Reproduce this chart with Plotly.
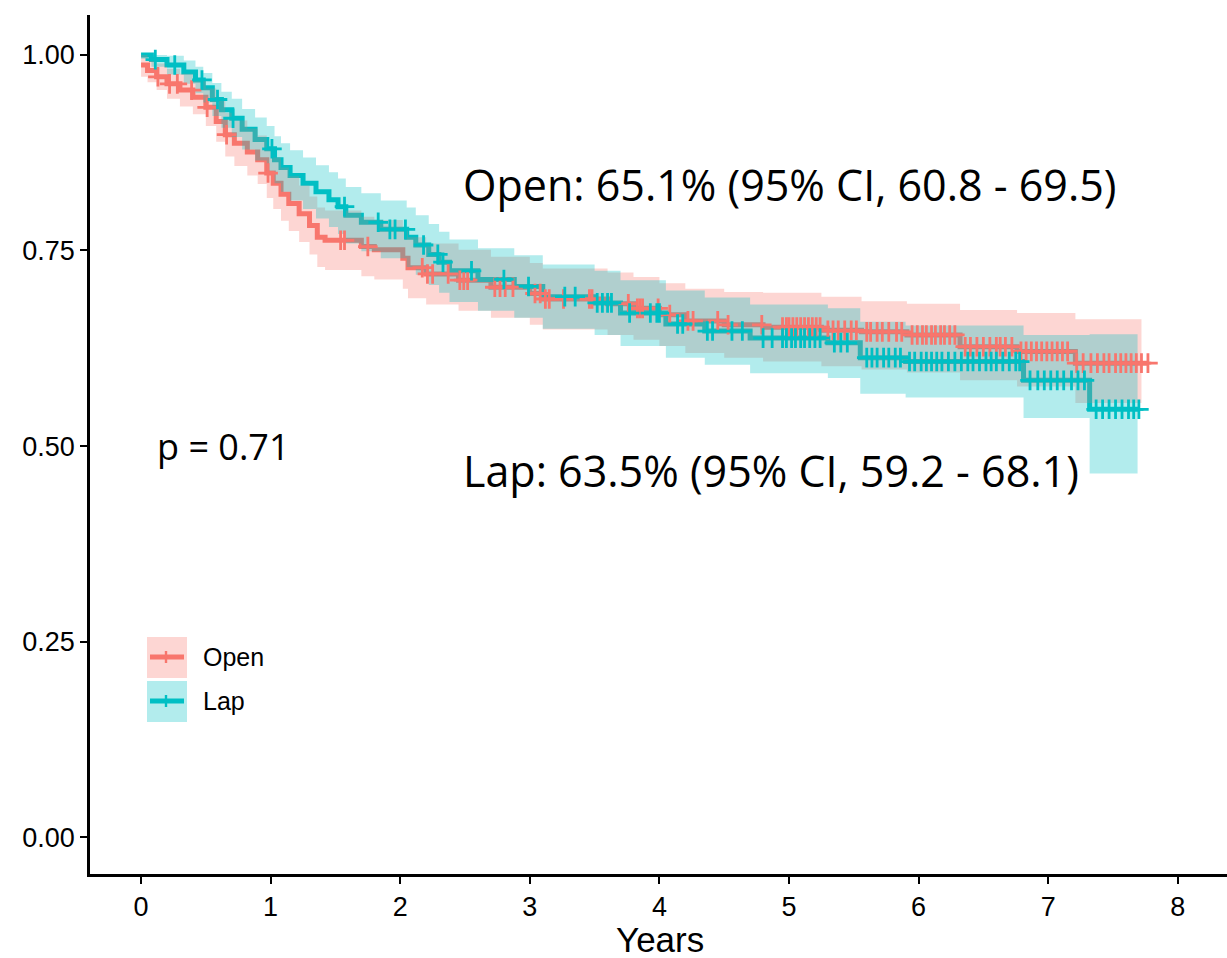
import numpy as np
import plotly.graph_objects as go

# ---------------- data ----------------
open_t = [0.0, 0.05, 0.12, 0.2, 0.3, 0.4, 0.5, 0.58, 0.65, 0.72, 0.82, 0.9, 0.97, 1.02, 1.08, 1.14, 1.22, 1.3, 1.36, 1.42, 1.7, 1.8, 2.02, 2.06, 2.2, 2.45, 2.7, 3.0, 3.1, 3.6, 3.8, 4.0, 4.2, 4.5, 4.8, 5.25, 5.56, 5.91, 6.32, 6.76, 7.21]
open_s = [0.987, 0.980, 0.972, 0.963, 0.955, 0.946, 0.933, 0.915, 0.898, 0.887, 0.876, 0.866, 0.849, 0.836, 0.822, 0.810, 0.797, 0.782, 0.767, 0.763, 0.755, 0.751, 0.740, 0.728, 0.720, 0.712, 0.703, 0.695, 0.688, 0.682, 0.676, 0.668, 0.660, 0.655, 0.652, 0.648, 0.646, 0.642, 0.627, 0.621, 0.606]
open_lo = [0.972, 0.965, 0.955, 0.944, 0.934, 0.924, 0.909, 0.889, 0.870, 0.858, 0.846, 0.835, 0.817, 0.803, 0.788, 0.775, 0.761, 0.745, 0.729, 0.725, 0.717, 0.713, 0.701, 0.689, 0.681, 0.673, 0.664, 0.655, 0.649, 0.642, 0.636, 0.628, 0.619, 0.613, 0.608, 0.602, 0.598, 0.594, 0.584, 0.576, 0.555]
open_hi = [1.000, 0.995, 0.989, 0.982, 0.976, 0.968, 0.957, 0.941, 0.926, 0.916, 0.906, 0.897, 0.881, 0.869, 0.856, 0.845, 0.833, 0.819, 0.805, 0.801, 0.793, 0.789, 0.779, 0.767, 0.759, 0.751, 0.742, 0.734, 0.727, 0.722, 0.716, 0.708, 0.701, 0.697, 0.696, 0.691, 0.685, 0.682, 0.674, 0.670, 0.662]
open_end = 7.77
open_band_end = 7.72
open_cens = [0.13, 0.22, 0.28, 0.39, 0.51, 0.66, 0.98, 1.54, 1.57, 1.75, 2.17, 2.21, 2.25, 2.37, 2.46, 2.49, 2.52, 2.73, 2.77, 2.81, 2.87, 3.04, 3.08, 3.12, 3.15, 3.26, 3.46, 3.48, 3.76, 3.83, 3.85, 3.87, 3.99, 4.08, 4.22, 4.26, 4.45, 4.53, 4.79, 4.95, 4.98, 5.0, 5.03, 5.06, 5.09, 5.12, 5.15, 5.18, 5.21, 5.24, 5.3, 5.34, 5.38, 5.43, 5.48, 5.52, 5.6, 5.63, 5.68, 5.72, 5.77, 5.83, 5.87, 5.95, 5.99, 6.03, 6.06, 6.1, 6.13, 6.17, 6.2, 6.24, 6.28, 6.36, 6.4, 6.45, 6.5, 6.55, 6.6, 6.63, 6.67, 6.72, 6.79, 6.83, 6.87, 6.91, 6.95, 6.99, 7.03, 7.07, 7.11, 7.15, 7.22, 7.27, 7.33, 7.38, 7.43, 7.47, 7.52, 7.56, 7.6, 7.64, 7.68, 7.72, 7.77]

lap_t = [0.0, 0.08, 0.2, 0.33, 0.42, 0.48, 0.55, 0.62, 0.7, 0.78, 0.88, 0.97, 1.03, 1.08, 1.15, 1.25, 1.35, 1.45, 1.52, 1.58, 1.7, 1.85, 2.05, 2.12, 2.22, 2.3, 2.38, 2.6, 2.88, 3.1, 3.5, 3.7, 4.05, 4.35, 4.7, 5.3, 5.55, 5.9, 6.81, 7.32]
lap_s = [1.000, 0.994, 0.987, 0.978, 0.968, 0.958, 0.943, 0.930, 0.919, 0.905, 0.892, 0.880, 0.866, 0.856, 0.846, 0.836, 0.825, 0.815, 0.806, 0.795, 0.786, 0.777, 0.767, 0.757, 0.745, 0.735, 0.724, 0.713, 0.704, 0.691, 0.683, 0.670, 0.656, 0.647, 0.638, 0.632, 0.613, 0.608, 0.584, 0.547]
lap_lo = [0.995, 0.985, 0.975, 0.963, 0.951, 0.939, 0.922, 0.907, 0.895, 0.879, 0.865, 0.852, 0.836, 0.825, 0.814, 0.803, 0.791, 0.780, 0.771, 0.759, 0.749, 0.740, 0.729, 0.719, 0.706, 0.696, 0.684, 0.673, 0.664, 0.650, 0.642, 0.628, 0.613, 0.604, 0.593, 0.587, 0.567, 0.562, 0.536, 0.465]
lap_hi = [1.000, 1.000, 0.999, 0.993, 0.985, 0.977, 0.964, 0.953, 0.944, 0.931, 0.920, 0.909, 0.896, 0.887, 0.878, 0.869, 0.859, 0.850, 0.842, 0.831, 0.823, 0.814, 0.805, 0.795, 0.784, 0.774, 0.764, 0.753, 0.744, 0.732, 0.724, 0.712, 0.699, 0.690, 0.681, 0.676, 0.659, 0.654, 0.642, 0.643]
lap_end = 7.70
lap_band_end = 7.69
lap_cens = [0.11, 0.26, 0.47, 0.59, 0.71, 1.01, 1.57, 1.83, 1.92, 1.96, 2.04, 2.18, 2.29, 2.33, 2.55, 2.8, 2.99, 3.27, 3.35, 3.52, 3.56, 3.6, 3.63, 3.77, 3.93, 3.98, 4.0, 4.14, 4.18, 4.37, 4.41, 4.56, 4.64, 4.8, 4.87, 4.95, 4.98, 5.02, 5.05, 5.09, 5.12, 5.16, 5.2, 5.24, 5.35, 5.4, 5.45, 5.6, 5.64, 5.68, 5.73, 5.77, 5.82, 5.86, 5.93, 5.97, 6.02, 6.06, 6.1, 6.14, 6.18, 6.23, 6.28, 6.33, 6.38, 6.42, 6.47, 6.52, 6.56, 6.6, 6.65, 6.7, 6.75, 6.78, 6.86, 6.92, 6.97, 7.02, 7.07, 7.12, 7.18, 7.23, 7.28, 7.37, 7.42, 7.47, 7.52, 7.57, 7.62, 7.66, 7.7]

groups = ["Open", "Lap"]
x_ticks = [0, 1, 2, 3, 4, 5, 6, 7, 8]
y_ticks = [0, 0.25, 0.5, 0.75, 1.0]
y_ticktext = ["0.00", "0.25", "0.50", "0.75", "1.00"]
x_title = "Years"
open_label = "Open: 65.1% (95% CI, 60.8 - 69.5)"
lap_label = "Lap: 63.5% (95% CI, 59.2 - 68.1)"
p_label = "p = 0.71"

# ---------------- styling ----------------
RED = "#F8766D"
TEAL = "#00BFC4"
RED_FILL = "rgba(248,118,109,0.3)"
TEAL_FILL = "rgba(0,191,196,0.3)"

series = [
    dict(name="Open", t=open_t, s=open_s, lo=open_lo, hi=open_hi, end=open_end,
         bend=open_band_end, cens=open_cens, col=RED, fill=RED_FILL),
    dict(name="Lap", t=lap_t, s=lap_s, lo=lap_lo, hi=lap_hi, end=lap_end,
         bend=lap_band_end, cens=lap_cens, col=TEAL, fill=TEAL_FILL),
]

fig = go.Figure()

# step curves (drawn first; ribbons lie over them as in the reference)
for d in series:
    fig.add_trace(go.Scatter(
        x=list(d["t"]) + [d["end"]], y=list(d["s"]) + [d["s"][-1]],
        mode="lines", line=dict(color=d["col"], width=5, shape="hv"),
        showlegend=False, hoverinfo="skip"))

# confidence ribbons
for d in series:
    fig.add_trace(go.Scatter(
        x=list(d["t"]) + [d["bend"]], y=list(d["lo"]) + [d["lo"][-1]],
        mode="lines", line=dict(width=0, shape="hv"),
        showlegend=False, hoverinfo="skip"))
    fig.add_trace(go.Scatter(
        x=list(d["t"]) + [d["bend"]], y=list(d["hi"]) + [d["hi"][-1]],
        mode="lines", line=dict(width=0, shape="hv"), fill="tonexty",
        fillcolor=d["fill"], showlegend=False, hoverinfo="skip"))

# censor marks
for d in series:
    tt = np.array(d["t"])
    ss = np.array(d["s"])
    ct = np.array(d["cens"])
    idx = np.searchsorted(tt, ct, side="right") - 1
    fig.add_trace(go.Scatter(
        x=ct, y=ss[idx], mode="markers",
        marker=dict(symbol="cross-thin", size=14,
                    line=dict(color=d["col"], width=2.8)),
        showlegend=False, hoverinfo="skip"))

# ---------------- annotations ----------------
fig.add_annotation(x=2.47, y=0.834, text=open_label, showarrow=False,
                   xanchor="left", yanchor="middle",
                   font=dict(family="Open Sans", size=43, color="black"))
fig.add_annotation(x=2.47, y=0.469, text=lap_label, showarrow=False,
                   xanchor="left", yanchor="middle",
                   font=dict(family="Open Sans", size=43, color="black"))
fig.add_annotation(x=0.105, y=0.50, text=p_label, showarrow=False,
                   xanchor="left", yanchor="middle",
                   font=dict(family="Open Sans", size=36, color="black"))

# ---------------- custom legend (key boxes) and axis title ----------------
W, H = 1227, 958
ML, MR, MT, MB = 90, 0, 15, 84
PW, PH = W - ML - MR, H - MT - MB


def px_x(px):
    return (px - ML) / PW


def px_y(py):
    return (H - MB - py) / PH


legend_rows = [(groups[0], RED, RED_FILL, 637, 678, 657),
               (groups[1], TEAL, TEAL_FILL, 681, 722, 701)]
for name, col, fcol, y_top, y_bot, yc in legend_rows:
    fig.add_shape(type="rect", xref="paper", yref="paper",
                  x0=px_x(147), x1=px_x(187), y0=px_y(y_bot), y1=px_y(y_top),
                  fillcolor=fcol, line=dict(width=0), layer="above")
    fig.add_shape(type="line", xref="paper", yref="paper",
                  x0=px_x(150), x1=px_x(184), y0=px_y(yc), y1=px_y(yc),
                  line=dict(color=col, width=5), layer="above")
    fig.add_shape(type="line", xref="paper", yref="paper",
                  x0=px_x(166), x1=px_x(166), y0=px_y(yc + 6), y1=px_y(yc - 6),
                  line=dict(color=col, width=2.4), layer="above")
    fig.add_annotation(xref="paper", yref="paper", x=px_x(201), y=px_y(yc),
                       text=name, showarrow=False, xanchor="left", yanchor="middle",
                       font=dict(family="Liberation Sans", size=25, color="black"))

fig.add_annotation(xref="paper", yref="paper", x=px_x(660), y=px_y(939),
                   text=x_title, showarrow=False, xanchor="center", yanchor="middle",
                   font=dict(family="Liberation Sans", size=35, color="black"))

# ---------------- layout ----------------
axis_common = dict(showline=True, linecolor="black", linewidth=2.5,
                   ticks="outside", ticklen=7, tickwidth=2, tickcolor="black",
                   showgrid=False, zeroline=False, automargin=False,
                   tickfont=dict(family="Liberation Sans", size=27, color="black"))
fig.update_layout(
    width=W, height=H,
    margin=dict(l=ML, r=MR, t=MT, b=MB),
    paper_bgcolor="white", plot_bgcolor="white",
    showlegend=False,
    xaxis=dict(range=[-0.394, 8.38], tickvals=x_ticks, **axis_common),
    yaxis=dict(range=[-0.047, 1.051], tickvals=y_ticks, ticktext=y_ticktext,
               **axis_common),
)

fig.write_html("out.html", config={"displayModeBar": False},
               post_script="document.body.style.margin='0';document.body.style.overflow='hidden';")
